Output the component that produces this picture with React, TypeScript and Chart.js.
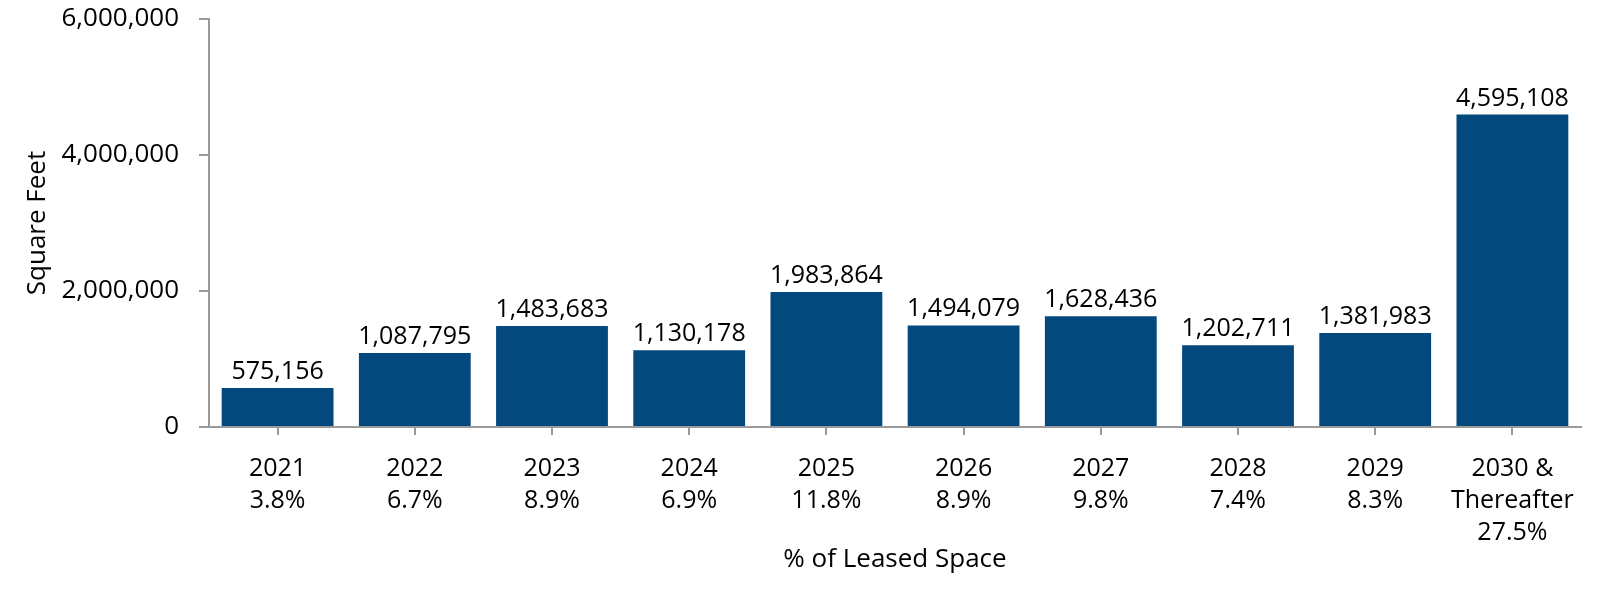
import React, { useEffect, useRef } from "react";
import { Chart, registerables } from "chart.js";

Chart.register(...registerables);

const categories: string[][] = [
  ["2021", "3.8%"],
  ["2022", "6.7%"],
  ["2023", "8.9%"],
  ["2024", "6.9%"],
  ["2025", "11.8%"],
  ["2026", "8.9%"],
  ["2027", "9.8%"],
  ["2028", "7.4%"],
  ["2029", "8.3%"],
  ["2030 &", "Thereafter", "27.5%"],
];

const squareFeet: number[] = [
  575156, 1087795, 1483683, 1130178, 1983864, 1494079, 1628436, 1202711, 1381983, 4595108,
];

const yTicks: number[] = [0, 2000000, 4000000, 6000000];

const FONT = "'Open Sans', Lato, sans-serif";
const BAR_COLOR = "#03497d";
const AXIS_COLOR = "#9a9a9a";

const valueLabels = {
  id: "valueLabels",
  afterDatasetsDraw(chart: any) {
    const ctx = chart.ctx;
    const meta = chart.getDatasetMeta(0);
    ctx.save();
    ctx.font = `25px ${FONT}`;
    ctx.fillStyle = "#000";
    ctx.textAlign = "center";
    ctx.textBaseline = "alphabetic";
    meta.data.forEach((bar: any, i: number) => {
      const v = chart.data.datasets[0].data[i] as number;
      ctx.fillText(v.toLocaleString("en-US"), bar.x, bar.y - 9);
    });
    ctx.restore();
  },
};

export default function App() {
  const ref = useRef<HTMLCanvasElement | null>(null);

  useEffect(() => {
    if (!ref.current) return;
    const chart = new Chart(ref.current, {
      type: "bar",
      data: {
        labels: categories,
        datasets: [
          {
            data: squareFeet,
            backgroundColor: BAR_COLOR,
            barPercentage: 0.815,
            categoryPercentage: 1,
          },
        ],
      },
      plugins: [valueLabels],
      options: {
        animation: false,
        responsive: false,
        maintainAspectRatio: false,
        devicePixelRatio: 1,
        layout: { padding: { top: 19, right: 19, bottom: 15, left: 14 } },
        plugins: {
          legend: { display: false },
          tooltip: { enabled: false },
        },
        scales: {
          x: {
            grid: {
              display: true,
              drawOnChartArea: false,
              drawTicks: true,
              tickLength: 8,
              offset: false,
              color: AXIS_COLOR,
              lineWidth: 2,
            },
            border: { display: true, color: AXIS_COLOR, width: 2 },
            ticks: {
              color: "#000",
              font: { family: FONT, size: 25, lineHeight: 1.28 },
              padding: 18,
              maxRotation: 0,
              autoSkip: false,
            },
            title: {
              display: true,
              text: "% of Leased Space",
              color: "#000",
              font: { family: FONT, size: 26, lineHeight: 1.2 },
              padding: { top: 0, bottom: 0 },
            },
            afterFit: (scale: any) => {
              scale.height = 148;
              scale.paddingLeft = 0;
              scale.paddingRight = 0;
            },
          },
          y: {
            min: 0,
            max: 6000000,
            afterBuildTicks: (scale: any) => {
              scale.ticks = yTicks.map((v) => ({ value: v }));
            },
            grid: {
              display: true,
              drawOnChartArea: false,
              drawTicks: true,
              tickLength: 10,
              color: AXIS_COLOR,
              lineWidth: 2,
            },
            border: { display: true, color: AXIS_COLOR, width: 2 },
            ticks: {
              color: "#000",
              font: { family: FONT, size: 26 },
              padding: 20,
              callback: (v: any) => Number(v).toLocaleString("en-US"),
            },
            title: {
              display: true,
              text: "Square Feet",
              color: "#000",
              font: { family: FONT, size: 26, lineHeight: 1.2 },
              padding: { top: 8, bottom: 0 },
            },
            afterFit: (scale: any) => {
              scale.width = 195;
              scale.paddingTop = 0;
              scale.paddingBottom = 0;
            },
          },
        },
      },
    });
    return () => chart.destroy();
  }, []);

  return (
    <div style={{ position: "fixed", left: 0, top: 0, width: 1600, height: 590, background: "#fff" }}>
      <canvas ref={ref} width={1600} height={590} style={{ width: 1600, height: 590, display: "block" }} />
    </div>
  );
}
